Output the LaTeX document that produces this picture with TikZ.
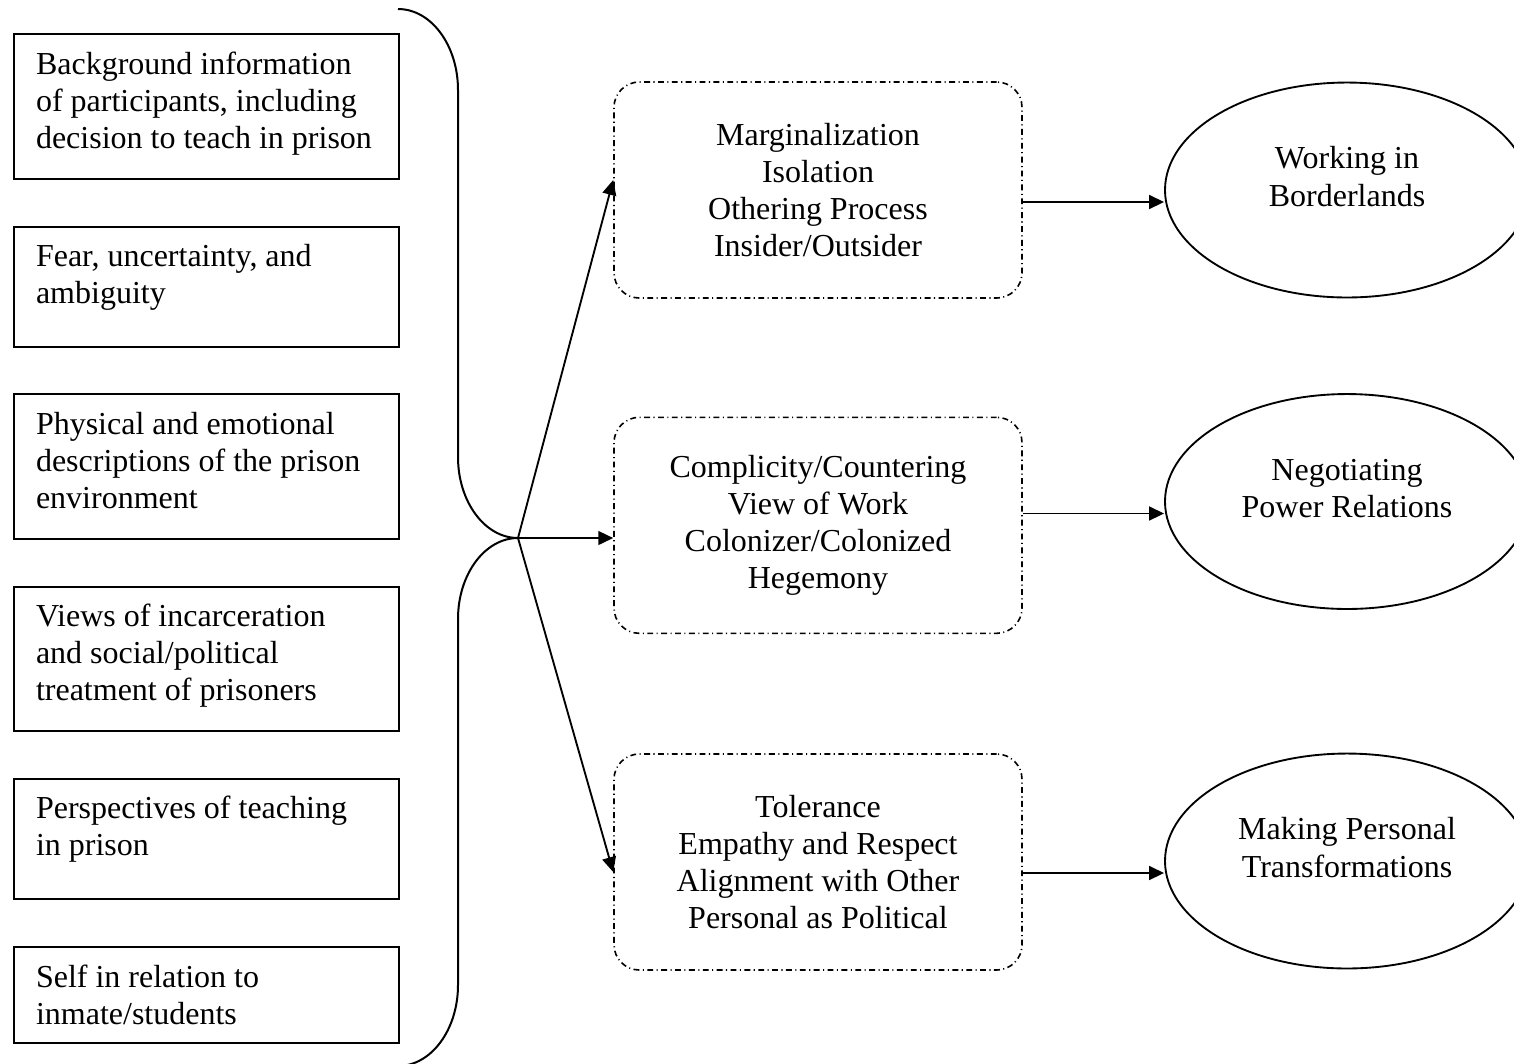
\documentclass[tikz,border=0pt]{standalone}
\usepackage{fontspec}
\setmainfont{Liberation Serif}
\usetikzlibrary{arrows.meta,shapes.geometric}
\begin{document}
\begin{tikzpicture}[x=0.375pt,y=0.375pt,font=\fontsize{12pt}{13.9pt}\selectfont]
                    \tikzstyle{lbox}=[draw, line width=0.75pt, anchor=north west, align=flush left, text width=127.9pt, inner xsep=8.25pt, inner ysep=6pt, text height=9pt]
                    \tikzstyle{theme}=[draw, line width=0.6pt, rounded corners=9.5pt, dash pattern=on 2.2pt off 1.3pt on 0.4pt off 1.3pt, minimum width=153pt, minimum height=81pt, align=center]
                    \tikzstyle{goal}=[draw, ellipse, line width=0.7pt, minimum width=136.5pt, minimum height=80.6pt, inner sep=0pt, align=flush center, text width=90pt, text height=9pt, text depth=24.8pt]
                    \tikzstyle{arr}=[line width=0.7pt, -{Triangle[length=5.6pt,width=5.2pt]}]
                    \clip (0,0) rectangle (1514,-1063);
                    \node [lbox, text depth=33.15pt] (b1) at (13,-33.3) {Background information\\of participants, including\\decision to teach in prison};
                    \node [lbox, text depth=24pt] (b2) at (13,-225.7) {Fear, uncertainty, and\\ambiguity};
                    \node [lbox, text depth=33.15pt] (b3) at (13,-393.3) {Physical and emotional\\descriptions of the prison\\environment};
                    \node [lbox, text depth=33pt] (b4) at (13,-585.7) {Views of incarceration\\and social/political\\treatment of prisoners};
                    \node [lbox, text depth=24pt] (b5) at (13,-777.7) {Perspectives of teaching\\in prison};
                    \node [lbox, text depth=14.9pt] (b6) at (13,-946) {Self in relation to\\inmate/students};
                    \draw [line width=0.75pt] (398,-9) arc [start angle=90, end angle=0, x radius=60, y radius=81] -- (458,-457)
                        arc [start angle=180, end angle=270, x radius=60, y radius=81] coordinate (hub)
                        arc [start angle=90, end angle=180, x radius=60, y radius=81] -- (458,-985)
                        arc [start angle=0, end angle=-90, x radius=60, y radius=81];
                    \node [theme] (mA) at (818,-190) {Marginalization\\Isolation\\Othering Process\\Insider/Outsider};
                    \node [theme] (mB) at (818,-525.3) {Complicity/Countering\\View of Work\\Colonizer/Colonized\\Hegemony};
                    \node [theme] (mC) at (818,-862) {Tolerance\\Empathy and Respect\\Alignment with Other\\Personal as Political};
                    \node [goal] (eA) at (1347,-190) {Working in\\Borderlands};
                    \node [goal] (eB) at (1347,-501.5) {Negotiating\\Power Relations};
                    \node [goal] (eC) at (1347,-861) {Making Personal\\Transformations};
                    \draw [arr] (hub) -- ([yshift=3.75pt]mA.west);
                    \draw [arr] (hub) -- (hub -| mB.west);
                    \draw [arr] (hub) -- ([yshift=-3.75pt]mC.west);
                    \coordinate (inA) at ([yshift=-4.5pt]eA.west);
                    \coordinate (inB) at ([yshift=-4.5pt]eB.west);
                    \coordinate (inC) at ([yshift=-4.5pt]eC.west);
                    \draw [arr] (mA.east |- inA) -- (inA);
                    \draw [arr] (mB.east |- inB) -- (inB);
                    \draw [arr] (mC.east |- inC) -- (inC);
\end{tikzpicture}
\end{document}
